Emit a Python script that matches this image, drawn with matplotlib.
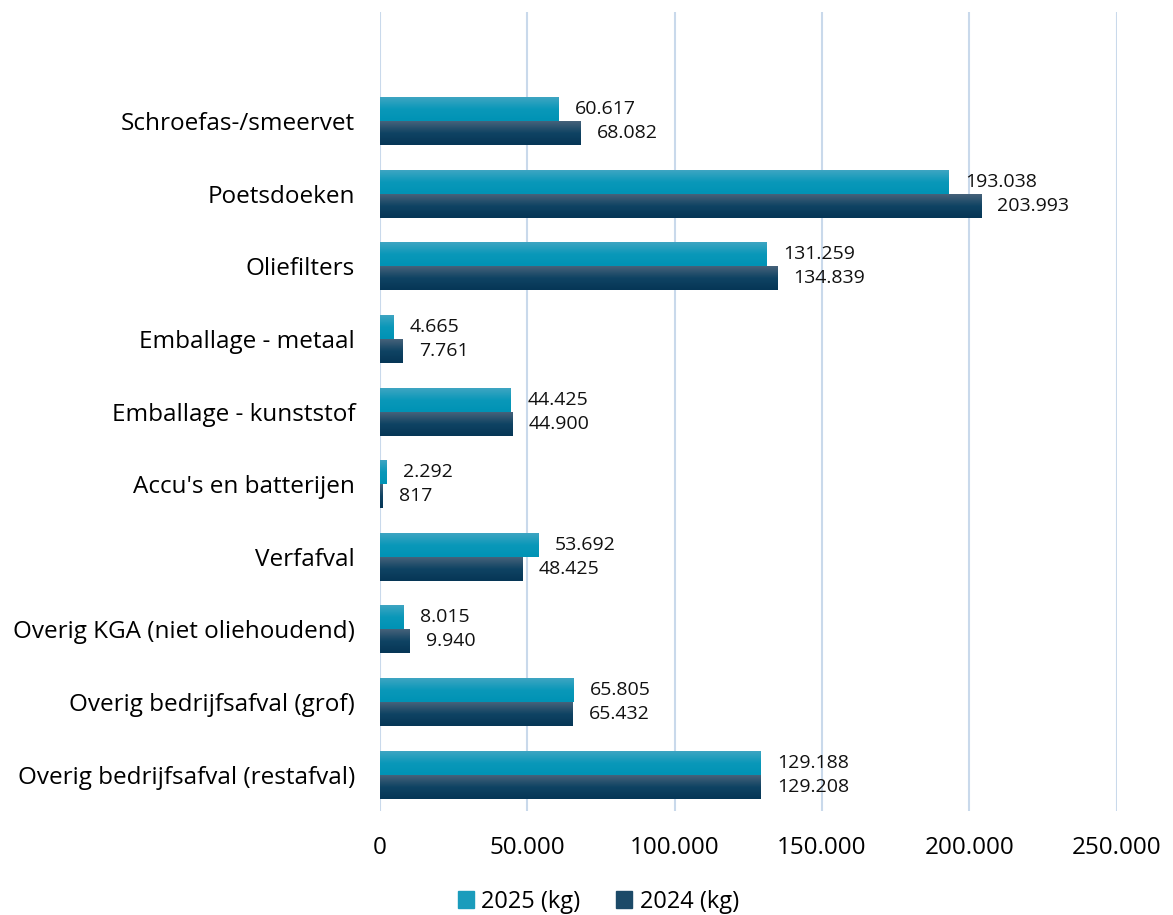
import matplotlib.pyplot as plt
import numpy as np
from matplotlib.colors import LinearSegmentedColormap
from matplotlib.patches import Patch

plt.rcParams['font.family'] = ['Open Sans', 'DejaVu Sans']

categories = ["Schroefas-/smeervet", "Poetsdoeken", "Oliefilters", "Emballage - metaal",
              "Emballage - kunststof", "Accu's en batterijen", "Verfafval",
              "Overig KGA (niet oliehoudend)", "Overig bedrijfsafval (grof)",
              "Overig bedrijfsafval (restafval)"]
v2025 = [60617, 193038, 131259, 4665, 44425, 2292, 53692, 8015, 65805, 129188]
v2024 = [68082, 203993, 134839, 7761, 44900, 817, 48425, 9940, 65432, 129208]
series = ["2025 (kg)", "2024 (kg)"]
xticks = [0, 50000, 100000, 150000, 200000, 250000]


def fmt(v):
    return f"{v:,}".replace(",", ".")


cm25 = LinearSegmentedColormap.from_list("c25", ["#3ea5c2", "#0a98b9", "#0093b5"])
cm24 = LinearSegmentedColormap.from_list("c24", ["#46627a", "#0f4363", "#063656"])
grad = np.linspace(0, 1, 64).reshape(-1, 1)

fig = plt.figure(figsize=(11.73, 9.15), dpi=100)
ax = fig.add_axes([0.324, 0.1137, 0.628, 0.873])

h = 0.33
pos = np.arange(1, len(categories) + 1)
for y, a, b in zip(pos, v2025, v2024):
    for val, top, cmap in [(a, y - h, cm25), (b, y, cm24)]:
        ax.imshow(grad, cmap=cmap, aspect='auto', extent=(0, val, top + h, top),
                  origin='upper', zorder=2)
        ax.text(val + 5500, top + h / 2, fmt(val), va='center', ha='left',
                fontsize=14, color='#111111')

ax.set_xlim(0, 250000)
ax.set_ylim(len(categories) + 0.5, -0.5)
ax.set_yticks(pos)
ax.set_yticklabels(categories, fontsize=17.5)
ax.set_xticks(xticks)
ax.set_xticklabels([fmt(t) for t in xticks], fontsize=17.5)
ax.tick_params(length=0)
ax.tick_params(axis='x', pad=18)
ax.tick_params(axis='y', pad=18)
for s in ax.spines.values():
    s.set_visible(False)
ax.grid(axis='x', color='#c9d9eb', linewidth=1.5, zorder=0)
ax.set_axisbelow(True)

handles = [Patch(color='#1a9cbc'), Patch(color='#1c4a68')]
fig.legend(handles, series, loc='lower center', bbox_to_anchor=(0.51, -0.022),
           ncol=2, frameon=False, fontsize=17, handlelength=0.7, handleheight=0.7,
           columnspacing=1.5, handletextpad=0.3)

fig.savefig("out.png", dpi=100)
